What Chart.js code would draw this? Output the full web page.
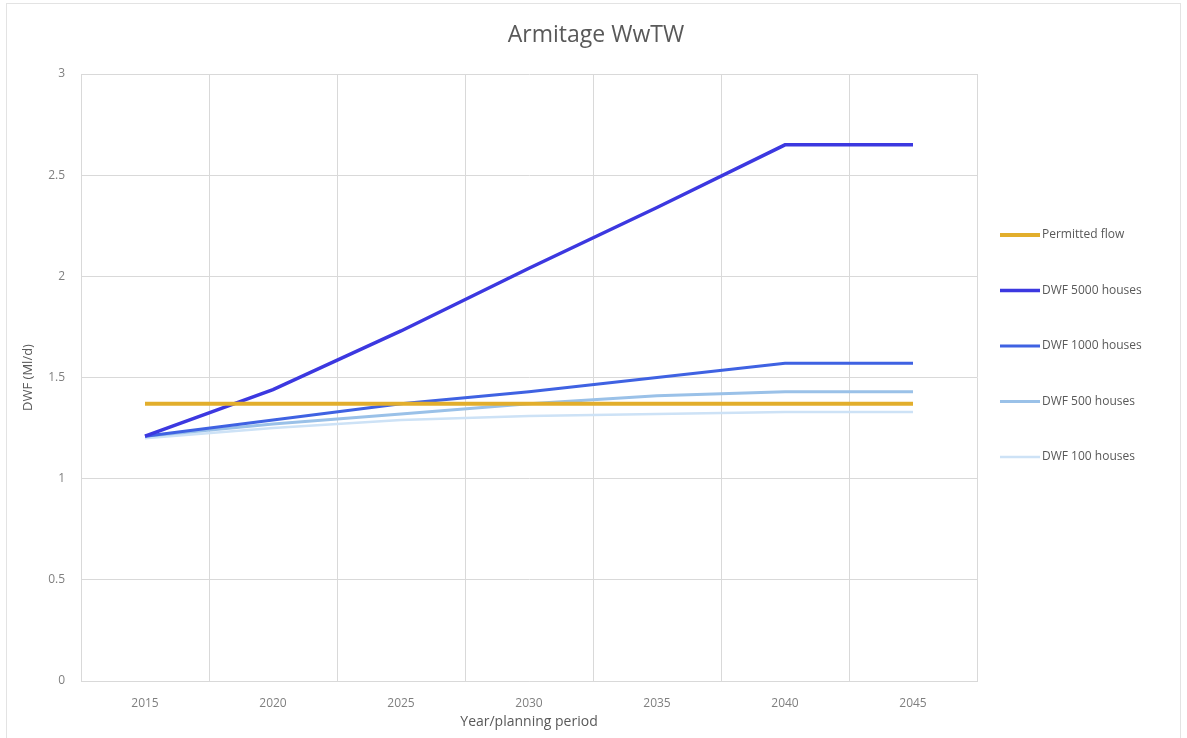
<!DOCTYPE html>
<html>
<head>
<meta charset="utf-8">
<script src="https://cdn.jsdelivr.net/npm/chart.js@4.4.0/dist/chart.umd.min.js"></script>
<style>
  html, body { margin: 0; padding: 0; background: #fff; }
  #wrap { width: 1187px; height: 738px; position: relative; }
</style>
</head>
<body>
<div id="wrap"><canvas id="lineChart"></canvas></div>
<script>
let years = ["2015", "2020", "2025", "2030", "2035", "2040", "2045"];
let permittedFlow = [1.37, 1.37, 1.37, 1.37, 1.37, 1.37, 1.37];
let dwf5000 = [1.21, 1.44, 1.73, 2.04, 2.34, 2.65, 2.65];
let dwf1000 = [1.21, 1.29, 1.37, 1.43, 1.50, 1.57, 1.57];
let dwf500 = [1.21, 1.27, 1.32, 1.37, 1.41, 1.43, 1.43];
let dwf100 = [1.20, 1.25, 1.29, 1.31, 1.32, 1.33, 1.33];

let chartTitle = "Armitage WwTW";
let labelColor = "#7f7f7f";

function lineSet(label, data, color, width) {
    return {
        label: label,
        data: data,
        borderColor: color,
        backgroundColor: color,
        borderWidth: width,
        pointRadius: 0,
        tension: 0
    };
}

// Frame, title and legend drawn by hand, Excel style
let excelBits = {
    id: "excelBits",
    beforeDraw(chart) {
        let c = chart.ctx;
        c.save();
        c.strokeStyle = "#e3e3e3";
        c.lineWidth = 1;
        c.strokeRect(6.5, 3.5, 1174, 740);
        c.restore();
    },
    afterDraw(chart) {
        let c = chart.ctx;
        c.save();
        // title, centred on the whole chart box
        c.font = "23px 'Open Sans'";
        c.fillStyle = "#595959";
        c.textAlign = "center";
        c.textBaseline = "middle";
        c.fillText(chartTitle, 596, 35);

        // legend on the right
        let x0 = chart.chartArea.right + 23;
        let y0 = 235;
        let step = 55.5;
        c.font = "12px 'Open Sans'";
        c.textAlign = "left";
        chart.data.datasets.forEach((ds, i) => {
            let y = y0 + i * step;
            c.strokeStyle = ds.borderColor;
            c.lineWidth = ds.borderWidth;
            c.beginPath();
            c.moveTo(x0, y);
            c.lineTo(x0 + 40, y);
            c.stroke();
            c.fillText(ds.label, x0 + 42, y);
        });
        c.restore();
    }
};

document.addEventListener("DOMContentLoaded", function () {
    let ctx = document.getElementById("lineChart").getContext("2d");

    new Chart(ctx, {
        type: "line",
        data: {
            labels: years,
            datasets: [
                lineSet("Permitted flow", permittedFlow, "#e2ae2c", 4),
                lineSet("DWF 5000 houses", dwf5000, "#3c38e0", 3.5),
                lineSet("DWF 1000 houses", dwf1000, "#3f62e2", 3),
                lineSet("DWF 500 houses", dwf500, "#9ac1e8", 3),
                lineSet("DWF 100 houses", dwf100, "#cde2f6", 2.5)
            ]
        },
        options: {
            responsive: true,
            maintainAspectRatio: false,
            animation: false,
            layout: { padding: { left: 20, right: 210, top: 74, bottom: 4 } },
            scales: {
                x: {
                    offset: true,
                    grid: { offset: true, color: "#d9d9d9", drawTicks: false },
                    border: { color: "#d9d9d9" },
                    ticks: { color: labelColor, font: { family: "Open Sans", size: 12 }, padding: 15 },
                    title: {
                        display: true,
                        text: "Year/planning period",
                        color: "#595959",
                        font: { family: "Open Sans", size: 14 },
                        padding: { top: 3, bottom: 4 }
                    },
                    afterFit: function (scale) { scale.height = 53; }
                },
                y: {
                    min: 0,
                    max: 3,
                    grid: { color: "#d9d9d9", drawTicks: false },
                    border: { color: "#d9d9d9" },
                    ticks: {
                        stepSize: 0.5,
                        color: labelColor,
                        font: { family: "Open Sans", size: 12 },
                        padding: 16,
                        callback: function (value) { return String(value); }
                    },
                    title: {
                        display: true,
                        text: "DWF (Ml/d)",
                        color: "#595959",
                        font: { family: "Open Sans", size: 13 },
                        padding: { top: 0, bottom: 4 }
                    },
                    afterFit: function (scale) { scale.width = 61; }
                }
            },
            plugins: {
                title: { display: false },
                legend: { display: false },
                tooltip: { enabled: false }
            }
        },
        plugins: [excelBits]
    });
});
</script>
</body>
</html>
